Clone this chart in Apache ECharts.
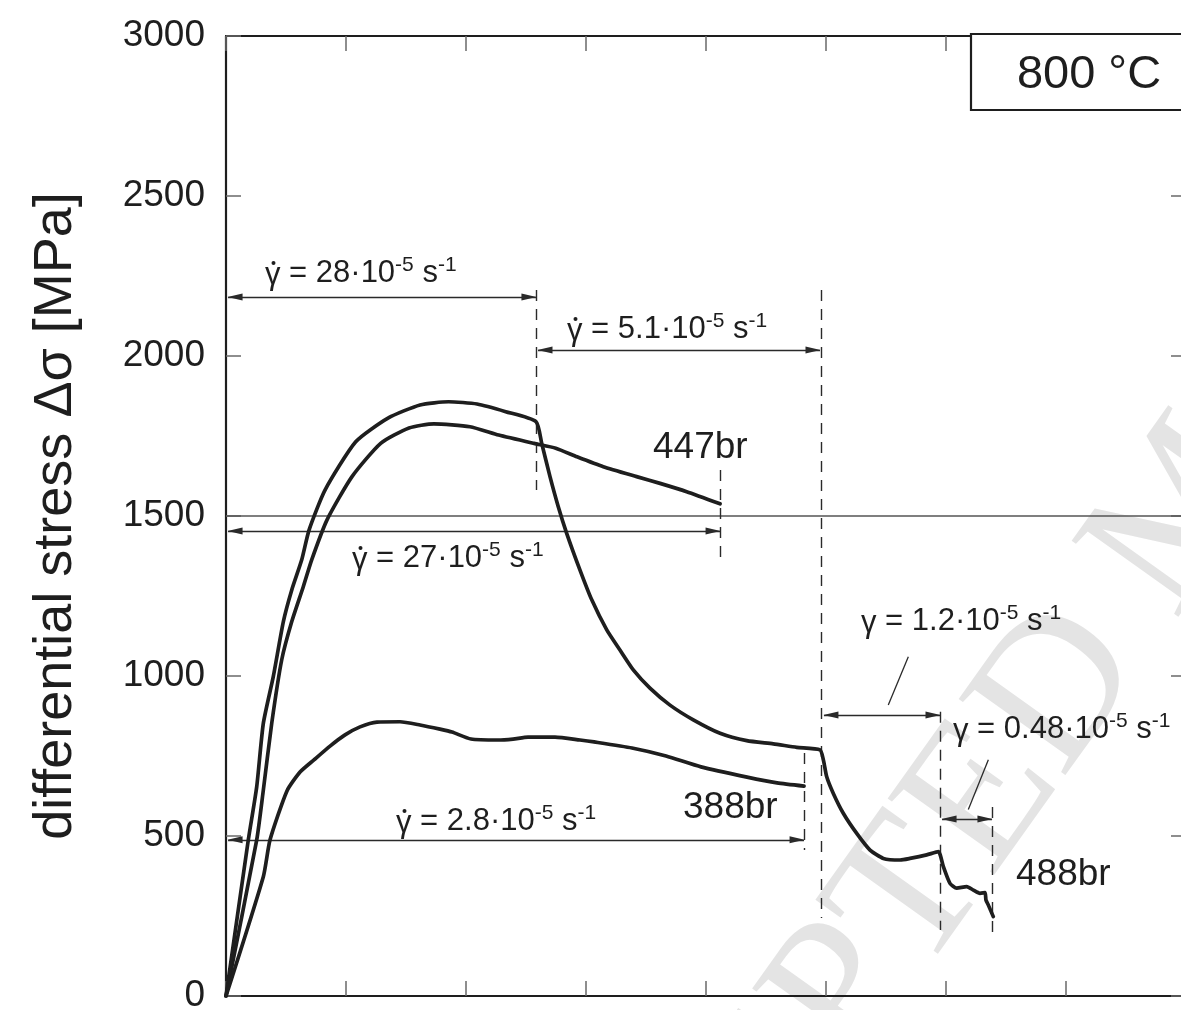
<!DOCTYPE html>
<html><head><meta charset="utf-8">
<script src="https://cdn.jsdelivr.net/npm/echarts@6/dist/echarts.min.js"></script>
<style>html,body{margin:0;padding:0;background:#fff}#c{width:1181px;height:1010px}</style>
</head><body><div id="c"></div>
<script>
// ---- data (x: strain in axis-tick units, y: differential stress MPa) ----
const curve447br = [[0,0],[0.256,488],[0.308,634],[0.381,852],[0.464,1050],[0.548,1170],[0.644,1279],[0.714,1363],[0.842,1488],[1.050,1623],[1.289,1727],[1.525,1775],[1.733,1788],[2.033,1779],[2.272,1753],[2.567,1727],[2.748,1712],[2.925,1685],[3.144,1654],[3.422,1623],[3.617,1602],[3.839,1576],[4.117,1538]];
const curve488br = [[0,0],[0.186,488],[0.256,654],[0.311,852],[0.394,998],[0.478,1170],[0.548,1269],[0.631,1363],[0.692,1456],[0.825,1581],[1.081,1732],[1.350,1806],[1.617,1847],[1.855,1857],[2.092,1850],[2.331,1826],[2.583,1795],[2.631,1727],[2.700,1623],[2.769,1529],[2.839,1446],[2.950,1331],[3.048,1238],[3.173,1144],[3.283,1081],[3.394,1019],[3.533,962],[3.700,909],[3.894,863],[4.117,821],[4.339,798],[4.561,788],[4.756,777],[4.950,769],[4.978,738],[5.006,685],[5.061,633],[5.144,571],[5.256,508],[5.367,456],[5.478,430],[5.617,425],[5.700,430],[5.839,441],[5.936,451],[5.978,404],[6.033,352],[6.089,337],[6.172,342],[6.228,331],[6.283,321],[6.325,323],[6.333,300],[6.353,284],[6.394,248]];
const curve388br = [[0,0],[0.311,373],[0.367,488],[0.508,641],[0.617,700],[0.733,738],[0.867,781],[0.992,816],[1.117,841],[1.258,856],[1.450,857],[1.617,847],[1.783,834],[1.883,825],[2.042,803],[2.267,800],[2.392,803],[2.517,809],[2.742,809],[2.950,800],[3.067,794],[3.383,775],[3.667,750],[3.958,716],[4.342,684],[4.592,666],[4.817,656]];
const yTicks = [0,500,1000,1500,2000,2500,3000];
const refStress = 1500;
// double-headed arrows: [xStart, xEnd, stress]
const rateArrows = [[0.017,2.583,2184],[2.6,4.95,2019],[0.017,4.117,1453],[0.017,4.817,488],[4.983,5.95,878],[5.967,6.383,553]];
// dashed verticals: [x, stressTop, stressBottom]
const dashedMarks = [[2.583,2206,1581],[4.963,2206,244],[4.117,1644,1356],[4.817,759,456],[5.95,888,206],[6.383,591,197]];
// leader lines: [[x1,y1],[x2,y2]]
const leaders = [[[5.686,1060],[5.519,909]],[[6.353,738],[6.186,583]]];
const rateLabels = ['{g|γ} = 28·10{s|-5} s{s|-1}','{g|γ} = 5.1·10{s|-5} s{s|-1}','{g|γ} = 27·10{s|-5} s{s|-1}','{g|γ} = 2.8·10{s|-5} s{s|-1}','{g|γ} = 1.2·10{s|-5} s{s|-1}','{g|γ} = 0.48·10{s|-5} s{s|-1}'];
const rateDotted = [true, true, true, true, false, false];
const sampleLabels = ['447br','388br','488br'];
const tempLabel = '800 °C';
const yName = 'differential stress Δσ [MPa]';

const FF = 'Liberation Sans, Arial, sans-serif';
const INK = '#1e1e1e';
const chart = echarts.init(document.getElementById('c'), null, {renderer:'canvas'});

const curveStyle = {color: INK, width: 3.7, join: 'round', cap: 'round'};
function curve(name, data){
  return {type:'line', name, data, showSymbol:false, symbol:'none', smooth:0.2, lineStyle: curveStyle, itemStyle:{color:INK}, z:5, animation:false, silent:true};
}
function rateText(i, x, y){
  const els = [{type:'text', x, y, z:50, silent:true, style:{text:rateLabels[i], fill:INK, font:'31px '+FF, align:'left', verticalAlign:'middle', lineHeight:36,
    rich:{g:{fontSize:31, lineHeight:36, verticalAlign:'bottom', fontFamily:FF, fill:INK}, s:{fontSize:21, lineHeight:24, verticalAlign:'top', fontFamily:FF, fill:INK}}}}];
  if (rateDotted[i]) els.push({type:'circle', z:51, silent:true, shape:{cx:x+8.5, cy:y-10, r:2}, style:{fill:INK}});
  return els;
}
function plainText(text, x, y, size){
  return {type:'text', x, y, z:50, silent:true, style:{text, fill:INK, font: size+'px '+FF, align:'left', verticalAlign:'middle'}};
}
const axisTickStyle = {show:true, inside:true, length:15, lineStyle:{color:'#6a6a6a', width:1.5}};
const axisLineStyle = {show:true, onZero:false, lineStyle:{color:INK, width:2.2}};

const option = {
  animation:false,
  backgroundColor:'#fff',
  grid:{left:226, top:36, width:960, height:960, containLabel:false, outerBoundsMode:'none'},
  xAxis:[
    {type:'value', min:0, max:8, interval:1, position:'bottom', axisLine:axisLineStyle, axisTick:axisTickStyle, axisLabel:{show:false}, splitLine:{show:false}},
    {type:'value', min:0, max:8, interval:1, position:'top', axisLine:axisLineStyle, axisTick:axisTickStyle, axisLabel:{show:false}, splitLine:{show:false}}
  ],
  yAxis:[
    {type:'value', min:0, max:3000, interval:500, position:'left',
     name: yName, nameLocation:'middle', nameGap:143, nameRotate:90,
     nameTextStyle:{fontSize:54, fontFamily:FF, color:INK},
     axisLine:axisLineStyle, axisTick:axisTickStyle,
     axisLabel:{show:true, fontSize:37, fontFamily:FF, color:INK, margin:21,
       formatter: v => yTicks.includes(v) ? String(v) : ''},
     splitLine:{show:false}},
    {type:'value', min:0, max:3000, interval:500, position:'right', axisLine:axisLineStyle, axisTick:axisTickStyle, axisLabel:{show:false}, splitLine:{show:false}}
  ],
  series:[
    curve('447br', curve447br),
    curve('488br', curve488br),
    curve('388br', curve388br),
    {type:'line', name:'ref', data:[], silent:true, animation:false,
     markLine:{silent:true, animation:false, symbol:['none','none'], label:{show:false},
       lineStyle:{color:'#555', width:1.6, type:'solid'},
       data:[[{coord:[0,refStress]},{coord:[8,refStress]}]]}},
    {type:'line', name:'arrows', data:[], silent:true, animation:false,
     markLine:{silent:true, animation:false, symbol:['triangle','triangle'], symbolSize:[7,15], symbolOffset:[[0,7],[0,7]], label:{show:false},
       lineStyle:{color:'#2a2a2a', width:1.3, type:'solid'},
       data: rateArrows.map(a => [{coord:[a[0],a[2]]},{coord:[a[1],a[2]]}])}},
    {type:'line', name:'dashes', data:[], silent:true, animation:false,
     markLine:{silent:true, animation:false, symbol:['none','none'], label:{show:false},
       lineStyle:{color:'#2a2a2a', width:1.4, type:[11,8]},
       data: dashedMarks.map(d => [{coord:[d[0],d[1]]},{coord:[d[0],d[2]]}])}},
    {type:'line', name:'leaders', data:[], silent:true, animation:false,
     markLine:{silent:true, animation:false, symbol:['none','none'], label:{show:false},
       lineStyle:{color:'#2a2a2a', width:1.3, type:'solid'},
       data: leaders.map(l => [{coord:l[0]},{coord:l[1]}])}}
  ],
  graphic:[
    {type:'text', x:503, y:1473, rotation:54.5*Math.PI/180, z:-10, silent:true,
     style:{text:'ACCEPTED MANUSCRIPT', fill:'#e4e4e4', font:'200px Liberation Serif, Times New Roman, serif', align:'left', verticalAlign:'middle'}},
    ...rateText(0, 265, 273),
    ...rateText(1, 567, 329),
    ...rateText(2, 352, 558),
    ...rateText(3, 396, 821),
    ...rateText(4, 861, 621),
    ...rateText(5, 953, 729),
    plainText(sampleLabels[0], 653, 448, 37),
    plainText(sampleLabels[1], 683, 808, 37),
    plainText(sampleLabels[2], 1016, 875, 37),
    {type:'rect', z:60, silent:true, shape:{x:971, y:34, width:240, height:76}, style:{fill:'#fff', stroke:INK, lineWidth:2.2}},
    {type:'text', z:61, silent:true, x:1089, y:75, style:{text:tempLabel, fill:INK, font:'47px '+FF, align:'center', verticalAlign:'middle'}}
  ]
};
chart.setOption(option);
</script>
</body></html>
